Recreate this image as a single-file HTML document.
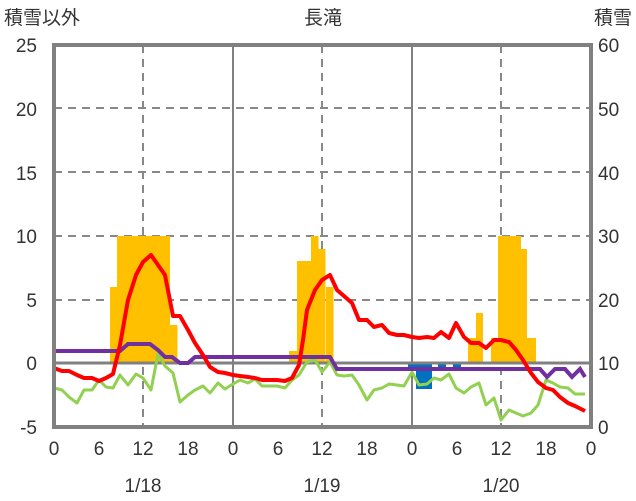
<!DOCTYPE html><html><head><meta charset="utf-8"><style>body{margin:0;background:#fff}svg{display:block}text{font-family:"Liberation Sans","Noto Sans CJK JP",sans-serif;font-size:19px;fill:#333}</style></head><body>
<svg width="636" height="501" viewBox="0 0 636 501">
<g stroke="#888" stroke-width="2" stroke-dasharray="8,6">
<line x1="54" x2="591" y1="108" y2="108"/><line x1="54" x2="591" y1="172" y2="172"/><line x1="54" x2="591" y1="236" y2="236"/><line x1="54" x2="591" y1="300" y2="300"/>
<line x1="143" x2="143" y1="45" y2="427"/><line x1="322" x2="322" y1="45" y2="427"/><line x1="501" x2="501" y1="45" y2="427"/>
</g>
<g stroke="#808080" stroke-width="2"><line x1="233" x2="233" y1="45" y2="427"/><line x1="412" x2="412" y1="45" y2="427"/></g>
<g fill="#FFC000">
<rect x="110" y="287" width="7.5" height="76"/><rect x="117" y="236" width="53" height="127"/><rect x="170" y="325" width="7.5" height="38"/>
<rect x="289" y="351" width="8" height="12"/><rect x="297" y="261" width="14" height="102"/><rect x="311" y="236" width="7.5" height="127"/><rect x="318" y="249" width="7.5" height="114"/><rect x="326" y="287" width="7.5" height="76"/>
<rect x="468" y="338" width="8" height="25"/><rect x="476" y="313" width="7" height="50"/><rect x="491" y="338" width="7" height="25"/><rect x="498" y="236" width="23" height="127"/><rect x="521" y="249" width="6" height="114"/><rect x="527" y="338" width="9" height="25"/>
</g>
<g fill="#0070C0"><rect x="408" y="363" width="8" height="4"/><rect x="416" y="363" width="16" height="26"/><rect x="438" y="363" width="8" height="4"/><rect x="453" y="363" width="8" height="4"/></g>
<line x1="54" x2="591" y1="363" y2="363" stroke="#808080" stroke-width="3"/>
<polyline fill="none" stroke="#92D050" stroke-width="3" stroke-linejoin="round" points="54,388 62,390 69,397 77,403 84,390 92,390 99,380 106,387 113,388 120,375 128,385 136,374 143,378 151,390 158,354 165,366 173,373 180,402 188,395 195,390 203,386 210,393 218,383 225,389 233,384 240,380 248,383 255,379 262,386 270,386 277,386 285,388 292,380 299,375 307,362 315,360 322,372 330,362 337,375 344,376 352,375 359,385 367,400 374,390 382,388 389,384 397,385 404,386 412,372 419,385 427,384 434,378 441,380 449,374 456,388 464,393 471,387 479,383 486,405 494,398 501,420 509,410 516,413 523,416 531,413 538,405 546,380 553,383 560,387 568,388 575,394 585,394"/>
<polyline fill="none" stroke="#7030A0" stroke-width="4" points="54,351 120,351 128,344 150,344 158,350 165,357 172,357 180,363 188,363 195,357 330,357 337,369 540,369 547,377 555,369 565,369 572,377 580,369 585,377"/>
<polyline fill="none" stroke="#FF0000" stroke-width="4" stroke-linejoin="round" points="54,368 62,371 69,371 77,375 84,378 92,378 99,381 106,378 113,374 120,345 128,300 136,275 143,262 151,255 158,265 165,275 173,316 180,316 188,330 195,343 203,355 210,367 218,372 225,373 233,375 240,376 248,377 255,378 262,380 270,380 277,380 285,381 292,378 299,365 303,340 307,310 315,290 322,280 330,275 337,290 344,296 352,303 359,320 367,320 374,327 382,325 389,333 397,335 404,335 412,337 419,338 427,337 434,338 441,332 449,338 456,323 464,337 471,343 479,343 486,348 494,340 501,340 509,342 516,350 523,360 531,373 538,382 546,388 553,390 560,397 568,403 575,406 585,411"/>
<rect x="54" y="45" width="537" height="382" fill="none" stroke="#808080" stroke-width="4"/>
<g text-anchor="end"><text x="37" y="52">25</text><text x="37" y="116">20</text><text x="37" y="180">15</text><text x="37" y="243">10</text><text x="37" y="307">5</text><text x="37" y="370">0</text><text x="37" y="434">-5</text></g>
<g text-anchor="start"><text x="598" y="52">60</text><text x="598" y="116">50</text><text x="598" y="180">40</text><text x="598" y="243">30</text><text x="598" y="307">20</text><text x="598" y="370">10</text><text x="598" y="434">0</text></g>
<g text-anchor="middle"><text x="54" y="455">0</text><text x="99" y="455">6</text><text x="143" y="455">12</text><text x="188" y="455">18</text><text x="233" y="455">0</text><text x="278" y="455">6</text><text x="322" y="455">12</text><text x="367" y="455">18</text><text x="412" y="455">0</text><text x="457" y="455">6</text><text x="501" y="455">12</text><text x="546" y="455">18</text><text x="591" y="455">0</text>
<text x="143" y="492">1/18</text><text x="322" y="492">1/19</text><text x="501" y="492">1/20</text>
<text x="323" y="24">長滝</text></g>
<text x="4" y="24">積雪以外</text><text x="632" y="24" text-anchor="end">積雪</text>
</svg></body></html>
